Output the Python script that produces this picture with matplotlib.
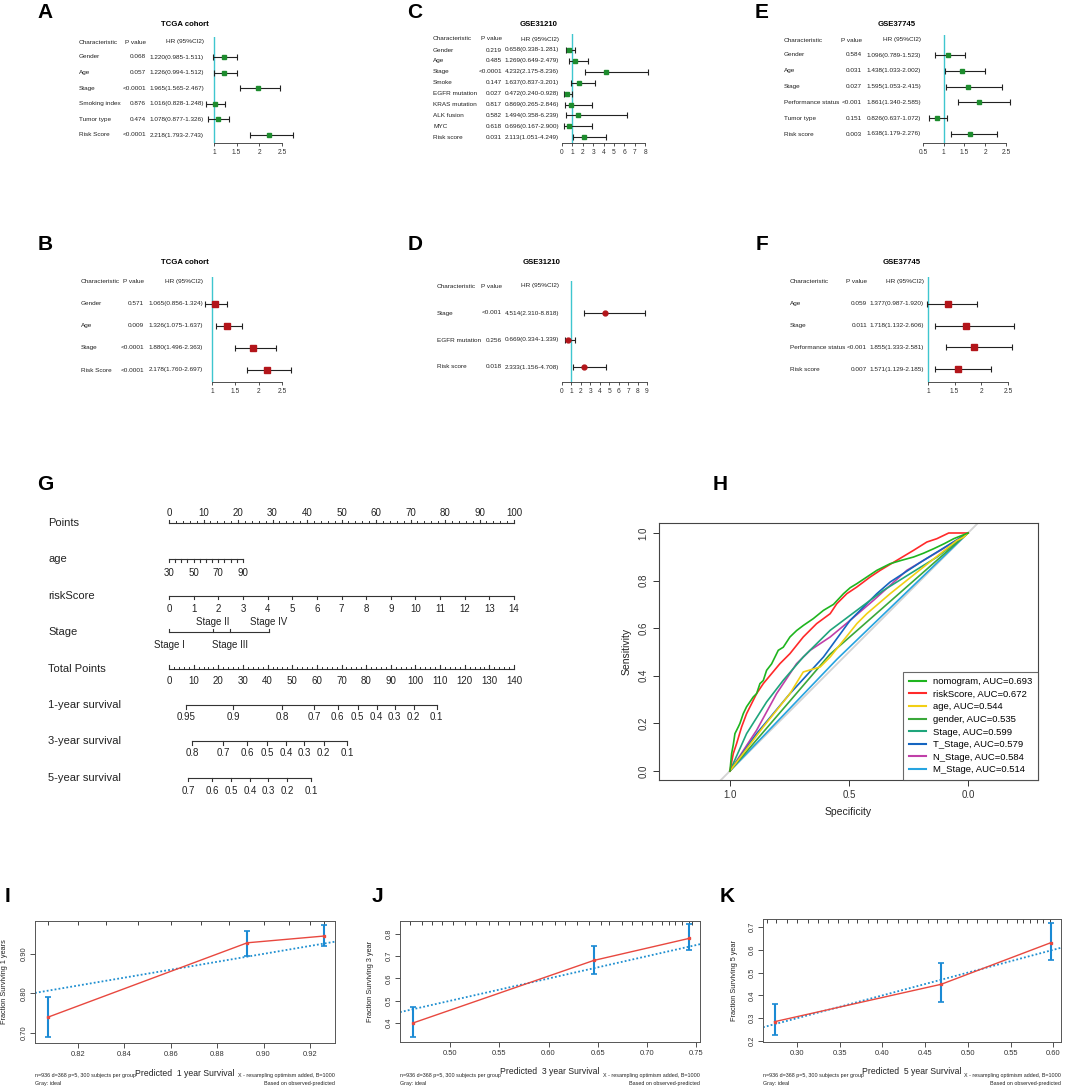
import numpy as np
import matplotlib.pyplot as plt
from matplotlib import transforms
from matplotlib.lines import Line2D

plt.rcParams['font.family'] = ['Liberation Sans', 'DejaVu Sans']

W, H = 1065, 1088

# ---- forest plot data (Cox regression) ----
A_CHAR = ["Gender", "Age", "Stage", "Smoking index", "Tumor type", "Risk Score"]
A_P = ["0.068", "0.057", "<0.0001", "0.876", "0.474", "<0.0001"]
A_HR = [1.220, 1.226, 1.965, 1.016, 1.078, 2.218]
A_LO = [0.985, 0.994, 1.565, 0.828, 0.877, 1.793]
A_HI = [1.511, 1.512, 2.467, 1.248, 1.326, 2.743]

B_CHAR = ["Gender", "Age", "Stage", "Risk Score"]
B_P = ["0.571", "0.009", "<0.0001", "<0.0001"]
B_HR = [1.065, 1.326, 1.880, 2.178]
B_LO = [0.856, 1.075, 1.496, 1.760]
B_HI = [1.324, 1.637, 2.363, 2.697]

C_CHAR = ["Gender", "Age", "Stage", "Smoke", "EGFR mutation", "KRAS mutation",
          "ALK fusion", "MYC", "Risk score"]
C_P = ["0.219", "0.485", "<0.0001", "0.147", "0.027", "0.817", "0.582", "0.618", "0.031"]
C_HR = [0.658, 1.269, 4.232, 1.637, 0.472, 0.869, 1.494, 0.696, 2.113]
C_LO = [0.338, 0.649, 2.175, 0.837, 0.240, 0.265, 0.358, 0.167, 1.051]
C_HI = [1.281, 2.479, 8.236, 3.201, 0.928, 2.846, 6.239, 2.900, 4.249]

D_CHAR = ["Stage", "EGFR mutation", "Risk score"]
D_P = ["<0.001", "0.256", "0.018"]
D_HR = [4.514, 0.669, 2.333]
D_LO = [2.310, 0.334, 1.156]
D_HI = [8.818, 1.339, 4.708]

E_CHAR = ["Gender", "Age", "Stage", "Performance status", "Tumor type", "Risk score"]
E_P = ["0.584", "0.031", "0.027", "<0.001", "0.151", "0.003"]
E_HR = [1.096, 1.438, 1.595, 1.861, 0.826, 1.638]
E_LO = [0.789, 1.033, 1.053, 1.340, 0.637, 1.179]
E_HI = [1.523, 2.002, 2.415, 2.585, 1.072, 2.276]

F_CHAR = ["Age", "Stage", "Performance status", "Risk score"]
F_P = ["0.059", "0.011", "<0.001", "0.007"]
F_HR = [1.377, 1.718, 1.855, 1.571]
F_LO = [0.987, 1.132, 1.333, 1.129]
F_HI = [1.920, 2.606, 2.581, 2.185]

# ---- nomogram data ----
AGE_TICKS = list(range(30, 95, 5))
AGE_LABELS = [30, 50, 70, 90]
AGE_MAX_PTS = 21.4
RISK_TICKS = list(range(0, 15))
STAGE_LABELS = ["Stage I", "Stage II", "Stage III", "Stage IV"]
STAGE_PTS = [0, 12.8, 17.7, 29.0]
SURV1_LAB = ["0.95", "0.9", "0.8", "0.7", "0.6", "0.5", "0.4", "0.3", "0.2", "0.1"]
SURV1_TP = [6.9, 26.1, 46.0, 59.0, 68.4, 76.5, 84.3, 91.6, 99.3, 108.6]
SURV3_LAB = ["0.8", "0.7", "0.6", "0.5", "0.4", "0.3", "0.2", "0.1"]
SURV3_TP = [9.4, 22.0, 31.7, 39.9, 47.6, 54.9, 62.7, 72.4]
SURV5_LAB = ["0.7", "0.6", "0.5", "0.4", "0.3", "0.2", "0.1"]
SURV5_TP = [7.7, 17.5, 25.2, 33.0, 40.3, 48.0, 57.8]

# ---- ROC data (specificity, sensitivity) ----
ROC_NAMES = ["nomogram", "riskScore", "age", "gender", "Stage", "T_Stage", "N_Stage", "M_Stage"]
ROC_AUC = [0.693, 0.672, 0.544, 0.535, 0.599, 0.579, 0.584, 0.514]
ROC_COLORS = ["#1fb51f", "#ff2a2a", "#f2cf14", "#3aa83a", "#1fa57c", "#1565c0", "#c03fa8", "#27a4e0"]
NOMO_SPEC = [1.0, 0.993, 0.986, 0.979, 0.965, 0.958, 0.944, 0.930, 0.902, 0.888, 0.874, 0.860,
             0.846, 0.825, 0.797, 0.776, 0.748, 0.720, 0.691, 0.650, 0.607, 0.565, 0.523, 0.495,
             0.467, 0.425, 0.383, 0.355, 0.327, 0.280, 0.229, 0.187, 0.144, 0.100, 0.060, 0.0]
NOMO_SENS = [0.0, 0.073, 0.110, 0.157, 0.185, 0.200, 0.241, 0.270, 0.311, 0.325, 0.367, 0.380,
             0.423, 0.450, 0.507, 0.520, 0.563, 0.590, 0.612, 0.640, 0.675, 0.700, 0.745, 0.770,
             0.787, 0.815, 0.843, 0.857, 0.871, 0.885, 0.899, 0.915, 0.934, 0.955, 0.976, 1.0]
RISK_SPEC = [1.0, 0.986, 0.972, 0.951, 0.930, 0.909, 0.888, 0.860, 0.825, 0.790, 0.748, 0.692,
             0.636, 0.579, 0.551, 0.509, 0.467, 0.411, 0.369, 0.299, 0.229, 0.173, 0.131, 0.081, 0.0]
RISK_SENS = [0.0, 0.073, 0.115, 0.185, 0.241, 0.283, 0.325, 0.367, 0.409, 0.451, 0.493, 0.563,
             0.619, 0.661, 0.703, 0.745, 0.773, 0.815, 0.843, 0.885, 0.927, 0.962, 0.976, 1.0, 1.0]
AGE_SPEC = [1.0, 0.860, 0.804, 0.748, 0.692, 0.621, 0.579, 0.467, 0.425, 0.327, 0.187, 0.046, 0.018, 0.0]
AGE_SENS = [0.0, 0.185, 0.255, 0.325, 0.416, 0.437, 0.479, 0.619, 0.661, 0.745, 0.857, 0.969, 0.983, 1.0]
GENDER_SPEC = [1.0, 0.58, 0.0]
GENDER_SENS = [0.0, 0.49, 1.0]
STAGE_SPEC = [1.0, 0.930, 0.846, 0.776, 0.692, 0.579, 0.467, 0.355, 0.243, 0.130, 0.0]
STAGE_SENS = [0.0, 0.157, 0.290, 0.381, 0.479, 0.591, 0.675, 0.759, 0.829, 0.899, 1.0]
TST_SPEC = [1.0, 0.888, 0.748, 0.607, 0.495, 0.383, 0.327, 0.187, 0.0]
TST_SENS = [0.0, 0.157, 0.325, 0.479, 0.633, 0.745, 0.794, 0.885, 1.0]
NST_SPEC = [1.0, 0.888, 0.804, 0.720, 0.663, 0.579, 0.495, 0.397, 0.257, 0.116, 0.0]
NST_SENS = [0.0, 0.171, 0.325, 0.451, 0.507, 0.563, 0.633, 0.717, 0.843, 0.927, 1.0]
MST_SPEC = [1.0, 0.55, 0.0]
MST_SENS = [0.0, 0.47, 1.0]

# ---- calibration data ----
I_PRED = [0.807, 0.893, 0.926]
I_OBS = [0.740, 0.928, 0.945]
I_LO = [0.691, 0.895, 0.921]
I_HI = [0.791, 0.959, 0.973]
I_RUG = [0.807, 0.820, 0.832, 0.846, 0.860, 0.873, 0.885, 0.900, 0.911, 0.920, 0.926]

J_PRED = [0.462, 0.646, 0.743]
J_OBS = [0.400, 0.681, 0.780]
J_LO = [0.339, 0.620, 0.728]
J_HI = [0.474, 0.748, 0.843]
J_RUG = [0.459, 0.471, 0.482, 0.492, 0.503, 0.515, 0.526, 0.539, 0.549, 0.560, 0.571, 0.583,
         0.593, 0.607, 0.617, 0.629, 0.641, 0.653, 0.661, 0.675, 0.685, 0.695, 0.705, 0.715,
         0.722, 0.729, 0.736, 0.743, 0.746]

K_PRED = [0.274, 0.469, 0.597]
K_OBS = [0.285, 0.449, 0.631]
K_LO = [0.226, 0.370, 0.556]
K_HI = [0.362, 0.543, 0.717]
K_RUG = [0.265, 0.276, 0.288, 0.300, 0.313, 0.325, 0.336, 0.348, 0.360, 0.371, 0.383, 0.394,
         0.406, 0.418, 0.429, 0.441, 0.453, 0.464, 0.476, 0.488, 0.499, 0.511, 0.522, 0.534,
         0.546, 0.557, 0.565, 0.573, 0.581, 0.588, 0.596]

CAL_NOTE1 = "n=936 d=368 p=5, 300 subjects per group"
CAL_NOTE2 = "Gray: ideal"
CAL_NOTE3 = "X - resampling optimism added, B=1000"
CAL_NOTE4 = "Based on observed-predicted"

fig = plt.figure(figsize=(W / 100, H / 100), dpi=100)


def rect(x0, y0, x1, y1):
    return [x0 / W, 1 - y1 / H, (x1 - x0) / W, (y1 - y0) / H]


def ftext(x, y, s, **kw):
    fig.text(x / W, 1 - y / H, s, **kw)


def letter(x, y, s):
    ftext(x, y, s, fontsize=15, fontweight='bold', ha='center', va='center')


def forest(chars, pvals, hr, lo, hi, x0, x1, ref_px, ref_v, unit, ticks,
           y_head, y_first, dy, y_base, cols, title_xy, title, marker, ms, mcolor):
    hr, lo, hi = np.asarray(hr), np.asarray(lo), np.asarray(hi)
    ax = fig.add_axes(rect(x0, y_head - 5, x1, y_base))
    ax.set_xlim(ref_v + (x0 - ref_px) / unit, ref_v + (x1 - ref_px) / unit)
    ax.set_ylim((y_base - y_first) / dy, (y_head - 5 - y_first) / dy)
    for s in ('top', 'right', 'left'):
        ax.spines[s].set_visible(False)
    ax.spines['bottom'].set_bounds(ticks[0], ticks[-1])
    ax.spines['bottom'].set_linewidth(0.6)
    ax.spines['bottom'].set_color('#333')
    ax.set_yticks([])
    ax.set_xticks(ticks)
    ax.set_xticklabels([f'{t:g}' for t in ticks])
    ax.tick_params(axis='x', labelsize=4.8, length=2.5, width=0.6, pad=2, colors='#333')
    ax.patch.set_alpha(0)
    ax.axvline(1, color='#3fc6cf', lw=1.0, zorder=1)
    y = np.arange(len(chars))
    ax.errorbar(hr, y, xerr=[hr - lo, hi - hr], fmt='none', ecolor='#222',
                elinewidth=0.8, capsize=2, capthick=0.8, zorder=2)
    ax.plot(hr, y, linestyle='none', marker=marker, ms=ms, color=mcolor, zorder=3)

    tr = transforms.blended_transform_factory(fig.transFigure, ax.transData)
    kw = dict(transform=tr, fontsize=4.6, va='center', color='#222', clip_on=False)
    c_char, c_p, c_hr = cols
    yh = (y_head - y_first) / dy
    ax.text(c_char / W, yh, 'Characteristic', ha='left', **kw)
    ax.text(c_p / W, yh, 'P value', ha='right', **kw)
    ax.text(c_hr / W, yh, 'HR (95%CI2)', ha='right', **kw)
    for i in range(len(chars)):
        ax.text(c_char / W, i, chars[i], ha='left', **kw)
        ax.text(c_p / W, i, pvals[i], ha='right', **kw)
        ax.text(c_hr / W, i, f'{hr[i]:.3f}({lo[i]:.3f}-{hi[i]:.3f})', ha='right', **kw)
    ftext(title_xy[0], title_xy[1], title, fontsize=5.6, fontweight='bold',
          ha='center', va='center')


GREEN_M = '#1e8c2e'
RED_M = '#b3151a'

forest(A_CHAR, A_P, A_HR, A_LO, A_HI, 200, 300, 214, 1, 45.3, [1, 1.5, 2, 2.5],
       42, 57, 15.6, 143, (79, 146, 204), (185, 25), 'TCGA cohort', 's', 3.5, GREEN_M)
forest(C_CHAR, C_P, C_HR, C_LO, C_HI, 555, 655, 562, 0, 10.4, list(range(0, 9)),
       39, 50, 10.9, 143, (433, 502, 559), (539, 25), 'GSE31210', 's', 2.6, GREEN_M)
forest(E_CHAR, E_P, E_HR, E_LO, E_HI, 915, 1020, 923, 0.5, 41.5, [0.5, 1, 1.5, 2, 2.5],
       40, 55, 15.8, 143, (784, 862, 921), (897, 24), 'GSE37745', 's', 3.5, GREEN_M)
forest(B_CHAR, B_P, B_HR, B_LO, B_HI, 200, 300, 212, 1, 46.7, [1, 1.5, 2, 2.5],
       282, 304, 22, 382, (81, 144, 203), (185, 263), 'TCGA cohort', 's', 5, RED_M)
forest(D_CHAR, D_P, D_HR, D_LO, D_HI, 555, 655, 562, 0, 9.44, list(range(0, 10)),
       286, 313, 27, 382, (437, 502, 559), (542, 263), 'GSE31210', 'o', 3.5, RED_M)
forest(F_CHAR, F_P, F_HR, F_LO, F_HI, 915, 1020, 928, 1, 53.3, [1, 1.5, 2, 2.5],
       282, 304, 21.7, 382, (790, 867, 924), (902, 263), 'GSE37745', 's', 5, RED_M)

# ---- nomogram (G) ----
P0_PX, P_UNIT = 169, 3.45
ROW0, ROW_H = 523, 36.4
axg = fig.add_axes(rect(30, 480, 545, 800))
axg.axis('off')
axg.set_xlim((30 - P0_PX) / P_UNIT, (545 - P0_PX) / P_UNIT)
axg.set_ylim((800 - ROW0) / ROW_H, (480 - ROW0) / ROW_H)
PX = 1 / ROW_H
LC = '#333333'
NAME_X = (48 - P0_PX) / P_UNIT


def nomo_row(row, name, tick_pts, lab_pts, labs, up, lab_dy, minor_pts=(), tick_len=3.5):
    d = -1 if up else 1
    axg.plot([min(tick_pts), max(tick_pts)], [row, row], color=LC, lw=0.8)
    for t in tick_pts:
        axg.plot([t, t], [row, row + d * tick_len * PX], color=LC, lw=0.8)
    for t in minor_pts:
        axg.plot([t, t], [row, row + d * 1.8 * PX], color=LC, lw=0.7)
    for t, s, ldy in zip(lab_pts, labs, np.broadcast_to(lab_dy, len(labs))):
        axg.text(t, row + ldy * PX, s, ha='center', va='center', fontsize=7, color='#222')
    axg.text(NAME_X, row, name, ha='left', va='center', fontsize=8, color='#222')


pts_major = list(range(0, 101, 10))
nomo_row(0, 'Points', pts_major, pts_major, [str(v) for v in pts_major], True, -10,
         minor_pts=list(range(0, 101, 2)))
age_pts = [(a - AGE_TICKS[0]) / (AGE_TICKS[-1] - AGE_TICKS[0]) * AGE_MAX_PTS for a in AGE_TICKS]
age_lab_pts = [(a - AGE_TICKS[0]) / (AGE_TICKS[-1] - AGE_TICKS[0]) * AGE_MAX_PTS for a in AGE_LABELS]
nomo_row(1, 'age', age_pts, age_lab_pts, [str(a) for a in AGE_LABELS], False, 14, tick_len=2.5)
risk_pts = [r / RISK_TICKS[-1] * 100 for r in RISK_TICKS]
nomo_row(2, 'riskScore', risk_pts, risk_pts, [str(r) for r in RISK_TICKS], False, 13)
nomo_row(3, 'Stage', STAGE_PTS, STAGE_PTS, STAGE_LABELS, True, [13, -10, 13, -10])
tot_major = list(range(0, 141, 10))
tot_scale = 100 / 140
nomo_row(4, 'Total Points', [t * tot_scale for t in tot_major], [t * tot_scale for t in tot_major],
         [str(t) for t in tot_major], True, 12, minor_pts=[t * tot_scale for t in range(0, 141, 2)])
nomo_row(5, '1-year survival', [t * tot_scale for t in SURV1_TP], [t * tot_scale for t in SURV1_TP],
         SURV1_LAB, False, 12)
nomo_row(6, '3-year survival', [t * tot_scale for t in SURV3_TP], [t * tot_scale for t in SURV3_TP],
         SURV3_LAB, False, 12)
nomo_row(7, '5-year survival', [t * tot_scale for t in SURV5_TP], [t * tot_scale for t in SURV5_TP],
         SURV5_LAB, False, 13)

# ---- ROC (H) ----
axh = fig.add_axes(rect(659, 523, 1038, 780))
axh.set_xlim(1.298, -0.294)
axh.set_ylim(-0.038, 1.042)
axh.axline((1, 0), (0, 1), color='#d3d3d3', lw=1.3, zorder=1)
roc_spec = [NOMO_SPEC, RISK_SPEC, AGE_SPEC, GENDER_SPEC, STAGE_SPEC, TST_SPEC, NST_SPEC, MST_SPEC]
roc_sens = [NOMO_SENS, RISK_SENS, AGE_SENS, GENDER_SENS, STAGE_SENS, TST_SENS, NST_SENS, MST_SENS]
for k in reversed(range(len(ROC_NAMES))):
    axh.plot(roc_spec[k], roc_sens[k], color=ROC_COLORS[k], lw=1.2, zorder=2 + len(ROC_NAMES) - k)
handles = [Line2D([], [], color=c, lw=1.5) for c in ROC_COLORS]
labels = [f'{n}, AUC={a:.3f}' for n, a in zip(ROC_NAMES, ROC_AUC)]
leg = axh.legend(handles, labels, loc='lower right', fontsize=6.8, frameon=True, fancybox=False,
                 borderaxespad=0, handlelength=1.9, labelspacing=0.38, borderpad=0.6,
                 handletextpad=0.7, edgecolor='#444')
leg.get_frame().set_linewidth(0.8)
axh.set_xticks([1.0, 0.5, 0.0])
axh.set_xticklabels(['1.0', '0.5', '0.0'])
axh.set_yticks([0, 0.2, 0.4, 0.6, 0.8, 1.0])
axh.set_yticklabels(['0.0', '0.2', '0.4', '0.6', '0.8', '1.0'], rotation=90, va='center')
axh.tick_params(labelsize=7, length=4, width=0.7, colors='#333')
for s in axh.spines.values():
    s.set_color('#444')
    s.set_linewidth(0.8)
axh.set_xlabel('Specificity', fontsize=7.5, color='#222', labelpad=5)
axh.set_ylabel('Sensitivity', fontsize=7.5, color='#222', labelpad=5)


# ---- calibration (I, J, K) ----
def calib(box, xlim, ylim, xticks, xfmt, yticks, yfmt, pred, obs, lo, hi, rug, ylab, xlab, ylab_x):
    x0, y0, x1, y1 = box
    ax = fig.add_axes(rect(*box))
    ax.set_xlim(*xlim)
    ax.set_ylim(*ylim)
    pred, obs, lo, hi = map(np.asarray, (pred, obs, lo, hi))
    ax.axline((xlim[0], xlim[0]), slope=1, ls=(0, (1, 1.2)), color='#1f8fd0', lw=1.3, zorder=2)
    ax.plot(pred, obs, color='#e8483f', lw=1.0, zorder=3)
    ax.errorbar(pred, obs, yerr=[obs - lo, hi - obs], fmt='none', ecolor='#1a8ad4',
                elinewidth=1.5, capsize=2.2, capthick=1.2, zorder=4)
    ax.plot(pred, obs, linestyle='none', marker='s', ms=2, color='#e8483f', zorder=5)
    ax.vlines(rug, 0.965, 1.0, transform=ax.get_xaxis_transform(), color='#222', lw=0.6)
    ax.set_xticks(xticks)
    ax.set_xticklabels([xfmt.format(v) for v in xticks])
    ax.set_yticks(yticks)
    ax.set_yticklabels([yfmt.format(v) for v in yticks], rotation=90, va='center')
    ax.tick_params(labelsize=5.4, length=3.5, width=0.6, colors='#333', pad=2)
    for s in ax.spines.values():
        s.set_color('#555')
        s.set_linewidth(0.7)
    ftext(ylab_x, (y0 + y1) / 2, ylab, rotation=90, fontsize=5.3, ha='center', va='center', color='#222')
    ftext((x0 + x1) / 2, y1 + 30, xlab, fontsize=6.2, ha='center', va='center', color='#222')
    ftext(x0, y1 + 33, CAL_NOTE1, fontsize=3.9, ha='left', va='center', color='#222')
    ftext(x0, y1 + 41, CAL_NOTE2, fontsize=3.9, ha='left', va='center', color='#222')
    ftext(x1, y1 + 33, CAL_NOTE3, fontsize=3.9, ha='right', va='center', color='#222')
    ftext(x1, y1 + 41, CAL_NOTE4, fontsize=3.9, ha='right', va='center', color='#222')


calib((35, 921, 335, 1043), (0.8015, 0.9308), (0.675, 0.983), [0.82, 0.84, 0.86, 0.88, 0.90, 0.92],
      '{:.2f}', [0.70, 0.80, 0.90], '{:.2f}', I_PRED, I_OBS, I_LO, I_HI, I_RUG,
      'Fraction Surviving 1 years', 'Predicted  1 year Survival', 5)
calib((400, 921, 700, 1042), (0.449, 0.754), (0.315, 0.858), [0.50, 0.55, 0.60, 0.65, 0.70, 0.75],
      '{:.2f}', [0.4, 0.5, 0.6, 0.7, 0.8], '{:.1f}', J_PRED, J_OBS, J_LO, J_HI, J_RUG,
      'Fraction Surviving 3 year', 'Predicted  3 year Survival', 370)
calib((763, 919, 1061, 1042), (0.2605, 0.609), (0.196, 0.735), [0.30, 0.35, 0.40, 0.45, 0.50, 0.55, 0.60],
      '{:.2f}', [0.2, 0.3, 0.4, 0.5, 0.6, 0.7], '{:.1f}', K_PRED, K_OBS, K_LO, K_HI, K_RUG,
      'Fraction Surviving 5 year', 'Predicted  5 year Survival', 734)

for x, y, s in [(45, 12, 'A'), (415, 12, 'C'), (762, 12, 'E'), (45, 245, 'B'), (415, 245, 'D'),
                (762, 245, 'F'), (45, 484, 'G'), (720, 484, 'H'), (8, 896, 'I'), (377, 896, 'J'),
                (727, 896, 'K')]:
    letter(x, y, s)

fig.savefig('out.png', dpi=100)
